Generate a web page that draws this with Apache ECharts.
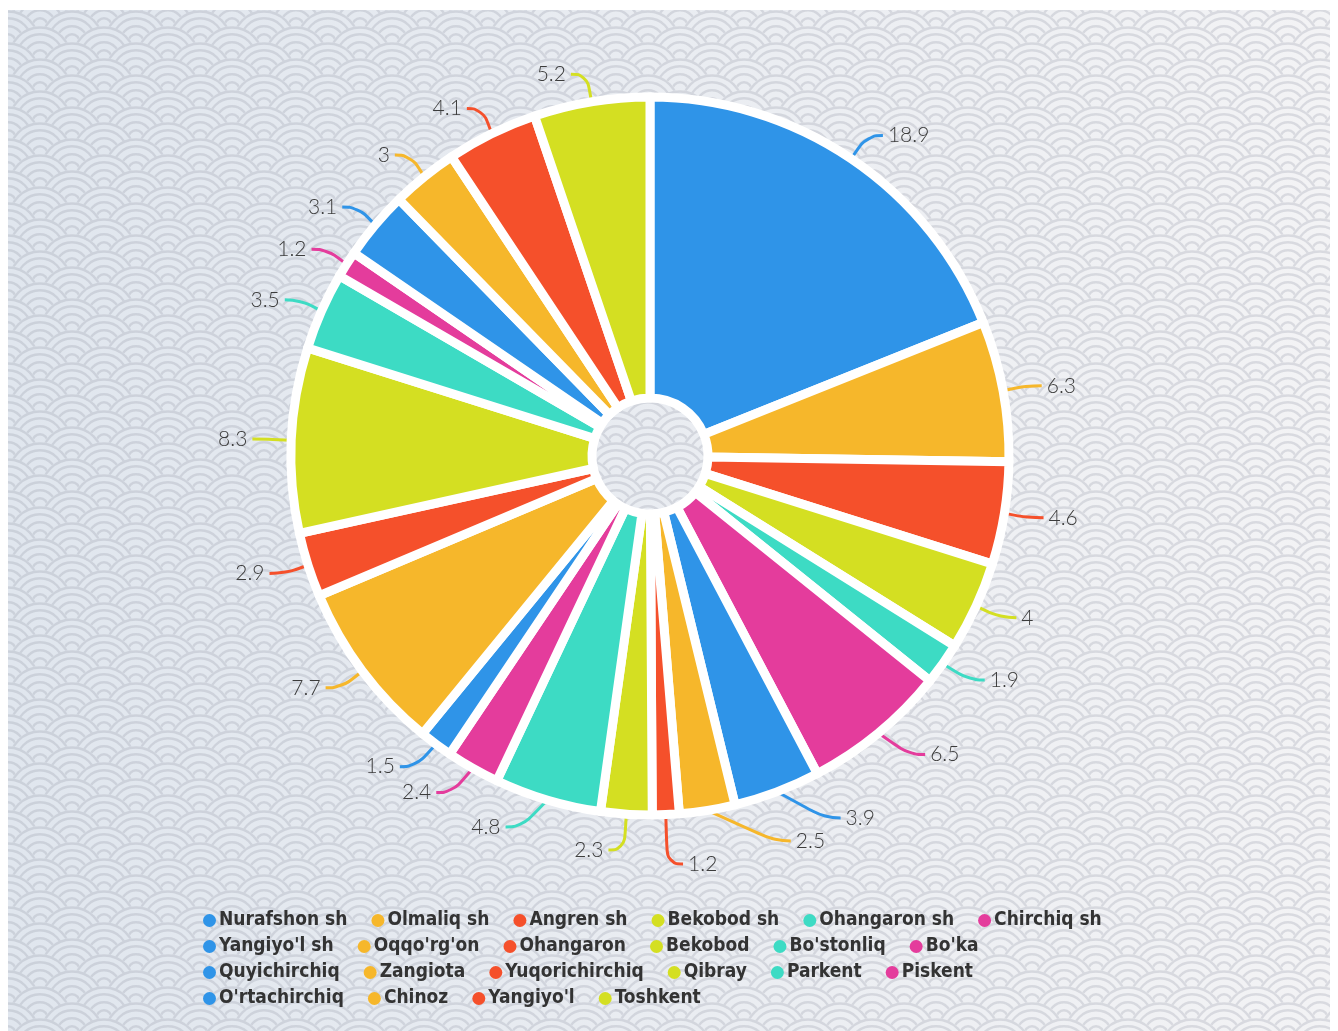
<!DOCTYPE html>
<html>
<head>
<meta charset="utf-8">
<script src="https://cdn.jsdelivr.net/npm/echarts@6/dist/echarts.min.js"></script>
<style>
  html, body { margin: 0; padding: 0; background: #fff; }
  #chart { position: absolute; left: 8px; top: 10px; width: 1322px; height: 1021px; }
</style>
</head>
<body>
<div id="chart"></div>
<script>
const names = ['Nurafshon sh', 'Olmaliq sh', 'Angren sh', 'Bekobod sh', 'Ohangaron sh', 'Chirchiq sh',
  "Yangiyo'l sh", "Oqqo'rg'on", 'Ohangaron', 'Bekobod', "Bo'stonliq", "Bo'ka",
  'Quyichirchiq', 'Zangiota', 'Yuqorichirchiq', 'Qibray', 'Parkent', 'Piskent',
  "O'rtachirchiq", 'Chinoz', "Yangiyo'l", 'Toshkent']
const values = [18.9, 6.3, 4.6, 4, 1.9, 6.5,
  3.9, 2.5, 1.2, 2.3, 4.8, 2.4,
  1.5, 7.7, 2.9, 8.3, 3.5, 1.2,
  3.1, 3, 4.1, 5.2]
const palette = ['#2f94e8', '#f6b72b', '#f5502b', '#d4df22', '#3ddbc4', '#e43c9c']
// legend rows as shown under the chart
const legendRows = [names.slice(0, 6), names.slice(6, 12), names.slice(12, 18), names.slice(18)]

// wave (seigaiha) background
const makeWaves = (w, h) => {
  const c = document.createElement('canvas')
  c.width = w
  c.height = h
  const ctx = c.getContext('2d')
  const g = ctx.createLinearGradient(0, 0, w, 0)
  g.addColorStop(0, '#e0e6ee')
  g.addColorStop(1, '#f3f3f5')
  const R = 32
  const dy = 16
  for (let row = -1; row * dy < h + R; row++) {
    const y = row * dy
    const off = Math.abs(row) % 2 ? R : 0
    for (let x = -2 * R + off; x < w + 2 * R; x += 2 * R) {
      ctx.beginPath()
      ctx.arc(x, y, R, 0, Math.PI * 2)
      ctx.fillStyle = g
      ctx.fill()
      ctx.strokeStyle = 'rgba(150,156,168,0.28)'
      ctx.lineWidth = 2.4
      ;[R - 1.5, R * 0.74, R * 0.49, R * 0.24].forEach(r => {
        ctx.beginPath()
        ctx.arc(x, y, r, 0, Math.PI * 2)
        ctx.stroke()
      })
    }
  }
  return c.toDataURL()
}

const el = document.getElementById('chart')
el.style.backgroundImage = `url(${makeWaves(1322, 1021)})`

const chart = echarts.init(el)
const option = {
  backgroundColor: 'transparent',
  color: palette,
  animation: false,
  legend: legendRows.map((row, i) => ({
    left: 190,
    top: 896 + i * 26,
    icon: 'circle',
    itemWidth: 13,
    itemHeight: 13,
    itemGap: 24,
    itemStyle: { borderWidth: 0 },
    textStyle: {
      fontFamily: '"DejaVu Sans Condensed", sans-serif',
      fontWeight: 600,
      fontSize: 19,
      color: '#333',
      padding: [0, 0, 0, -2]
    },
    data: row
  })),
  series: [
    {
      type: 'pie',
      center: [642, 446],
      radius: [58, 359],
      startAngle: 90,
      itemStyle: {
        borderColor: '#fff',
        borderWidth: 9
      },
      label: {
        formatter: '{c}',
        fontFamily: 'Lato, sans-serif',
        fontWeight: 300,
        fontSize: 21,
        color: '#3c3c3c'
      },
      labelLine: {
        length: 28,
        length2: 16,
        smooth: 0.5,
        lineStyle: { width: 3 }
      },
      emphasis: { disabled: true },
      data: names.map((n, i) => ({ name: n, value: values[i] }))
    }
  ]
}
chart.setOption(option)
</script>
</body>
</html>
